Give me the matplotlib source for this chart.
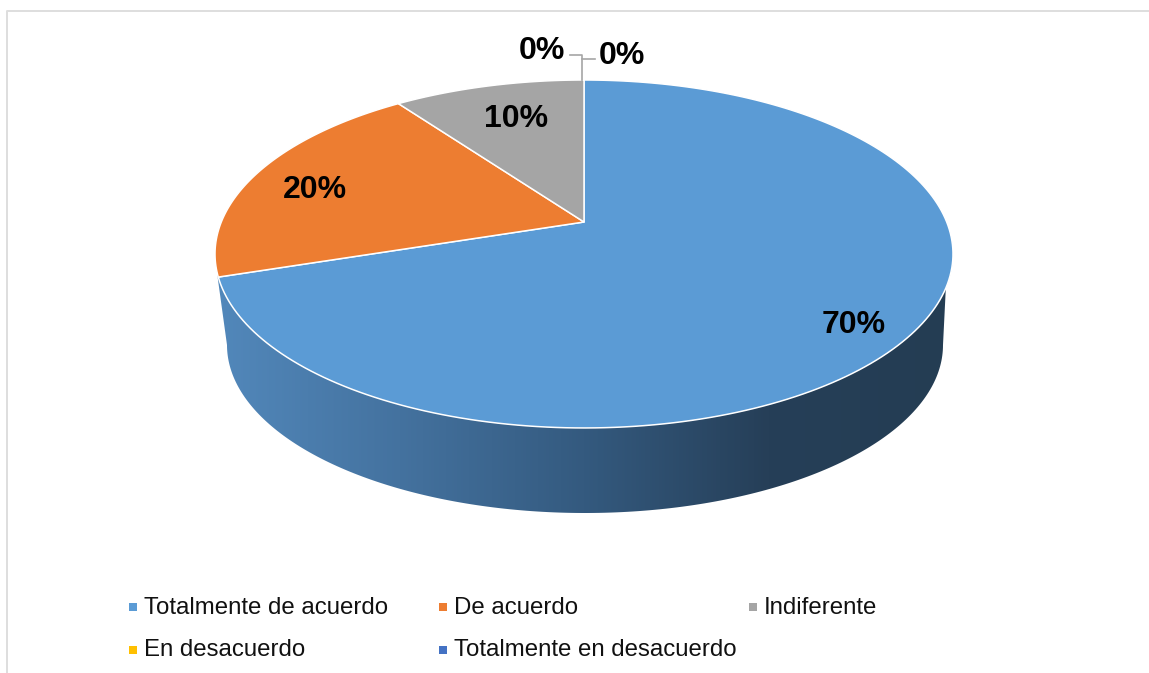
import numpy as np
import matplotlib
matplotlib.use("Agg")
import matplotlib.pyplot as plt
from matplotlib.colors import LinearSegmentedColormap
from matplotlib.patches import Polygon

categorias = ["Totalmente de acuerdo", "De acuerdo", "Indiferente",
              "En desacuerdo", "Totalmente en desacuerdo"]
valores = [70, 20, 10, 0, 0]
etiquetas = ["70%", "20%", "10%", "0%", "0%"]
cores = ["#5B9BD5", "#ED7D31", "#A5A5A5", "#FFC000", "#4472C4"]

plt.rcParams["font.family"] = ["Liberation Sans", "DejaVu Sans"]

# pizza em perspectiva, tudo em pixels da imagem
cx, cy = 584, 222
A, B, k = 362.7, 168.1, 0.1838
# elipse de baixo (fundo do cilindro)
cx_base, cy_base, rx_base, ry_base = 585, 345, 358, 168


def ponto_topo(t):
    u, v = np.sin(t), np.cos(t)
    s = 1 / (1 + k * v)
    return cx + A * u * s, cy - B * v * s


fig = plt.figure(figsize=(11.49, 6.73), dpi=100)
ax = fig.add_axes([0, 0, 1, 1])
ax.set_xlim(0, 1149)
ax.set_ylim(673, 0)
ax.axis("off")

# moldura do grafico
ax.plot([1149, 6.5, 6.5], [10.5, 10.5, 673], color="#DEDEDE", lw=1.4)

# lateral com degrade
t_lado = np.linspace(np.radians(92), np.radians(254), 200)
xt, yt = ponto_topo(t_lado)
fi = np.linspace(np.pi, 0, 200)
xb = cx_base + rx_base * np.cos(fi)
yb = cy_base + ry_base * np.sin(fi)
lado = Polygon(np.column_stack([np.r_[xb, xt], np.r_[yb, yt]]),
               closed=True, fc="none", ec="none")
ax.add_patch(lado)
cmap = LinearSegmentedColormap.from_list(
    "lado", ["#5288BB", "#44729F", "#345A7F", "#263F58", "#243D53"])
grad = np.linspace(0, 1, 256).reshape(1, -1)
im = ax.imshow(grad, cmap=cmap, extent=[215, 953, 520, 250], aspect="auto",
               zorder=1)
im.set_clip_path(lado)
ax.set_xlim(0, 1149)
ax.set_ylim(673, 0)

# fatias de cima
fracoes = np.cumsum([0] + valores) / sum(valores)
for i, cor in enumerate(cores):
    if valores[i] == 0:
        continue
    t = np.linspace(2 * np.pi * fracoes[i], 2 * np.pi * fracoes[i + 1], 200)
    x, y = ponto_topo(t)
    ax.fill(np.r_[cx, x], np.r_[cy, y], fc=cor, ec="white", lw=1.1,
            joinstyle="round", zorder=2)

# linhas de chamada dos 0%
ax.plot([570, 582, 582], [55, 55, 80], color="#A6A6A6", lw=1.2, zorder=3)
ax.plot([582, 595], [59, 59], color="#A6A6A6", lw=1.2, zorder=3)

pos_etiquetas = [(854, 325), (315, 190), (516, 119), (542, 51), (622, 56)]
for txt, (x, y) in zip(etiquetas, pos_etiquetas):
    ax.text(x, y, txt, fontsize=23, fontweight="bold", color="black",
            ha="center", va="center", zorder=4)

# legenda
pos_legenda = [(132.5, 607), (442.5, 607), (752.5, 607),
               (132.5, 649.5), (442.5, 649.5)]
for nome, cor, (x, y) in zip(categorias, cores, pos_legenda):
    ax.scatter([x], [y], marker="s", s=26, color=cor, linewidths=0, zorder=4)
    ax.text(x + 11.5, y + 1, nome, fontsize=17.3, color="#111111", ha="left",
            va="center", zorder=4)

fig.savefig("out.png", dpi=100)
